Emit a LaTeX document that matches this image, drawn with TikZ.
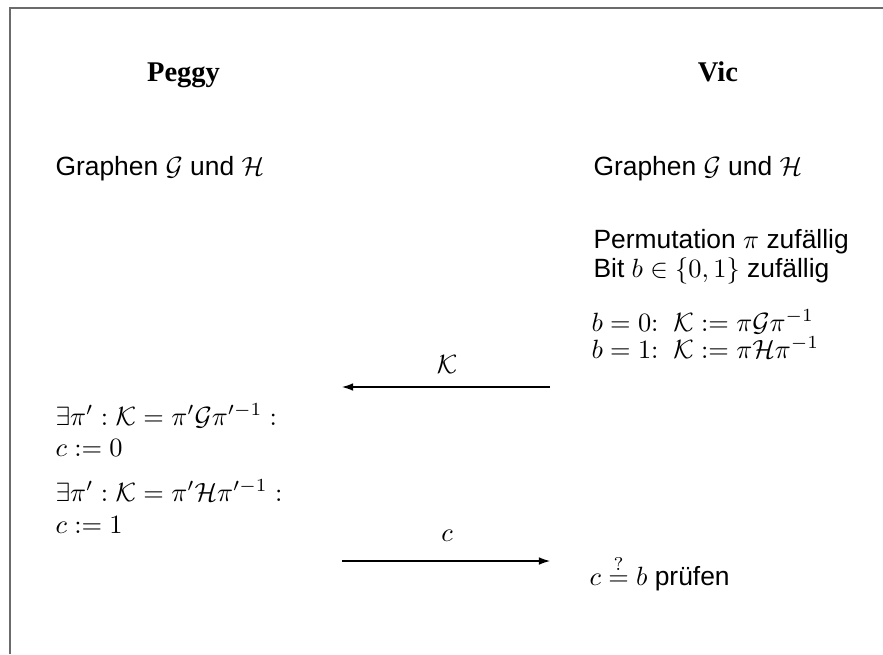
\documentclass[tikz,border=0pt]{standalone}
\usepackage{fontspec}
\setmainfont{Liberation Sans}
\newfontfamily\headfont{Liberation Serif}
\usetikzlibrary{arrows.meta}
\begin{document}
\begin{tikzpicture}[x=0.3788pt,y=-0.3788pt,
  txt/.style={inner sep=0pt,anchor=base west,font=\fontsize{10}{12}\selectfont},
  head/.style={inner sep=0pt,anchor=base,font=\fontsize{10.8}{13}\selectfont\headfont\bfseries},
  lbl/.style={inner sep=0pt,anchor=base,font=\fontsize{10}{12}\selectfont},
  msg/.style={line width=0.42pt,-{Latex[length=4.2pt,width=2.9pt]}},
  frame/.style={draw=black!58,line width=0.76pt}]
\useasboundingbox (0,0) rectangle (883,654);
\draw[frame] (10,654) -- (10,8) -- (883,8);
% headings
\node[head] (peggy) at (183.5,81) {Peggy};
\node[head] (vic) at (718,81) {Vic};
% left column
\node[txt] (pg) at (55,175) {Graphen $\mathcal{G}$ und $\mathcal{H}$};
\node[txt] (e1) at (55,425) {$\exists\pi' : \mathcal{K} = \pi'\mathcal{G}\pi'^{-1}:$};
\node[txt] (c0) at (55,456) {$c := 0$};
\node[txt] (e2) at (55,501) {$\exists\pi' : \mathcal{K} = \pi'\mathcal{H}\pi'^{-1}:$};
\node[txt] (c1) at (55,533) {$c := 1$};
% right column
\node[txt] (vg) at (593,175) {Graphen $\mathcal{G}$ und $\mathcal{H}$};
\node[txt] (perm) at (593,248) {Permutation $\pi$ zufällig};
\node[txt] (bit) at (593,277) {Bit $b\in\{0,1\}$ zufällig};
\node[txt] (b0) at (591,331) {$b=0{:}\;\;\mathcal{K} := \pi\mathcal{G}\pi^{-1}$};
\node[txt] (b1) at (591,358) {$b=1{:}\;\;\mathcal{K} := \pi\mathcal{H}\pi^{-1}$};
\node[txt] (chk) at (589,585) {$c \stackrel{?}{=} b$ prüfen};
% messages
\coordinate (kR) at (550,387);
\coordinate (kL) at (342,387);
\coordinate (cL) at (342,561);
\coordinate (cR) at (550,561);
\draw[msg] (kR) -- (kL);
\draw[msg] (cL) -- (cR);
\node[lbl] (klbl) at (447,373) {$\mathcal{K}$};
\node[lbl] (clbl) at (447,541) {$c$};
\end{tikzpicture}
\end{document}
